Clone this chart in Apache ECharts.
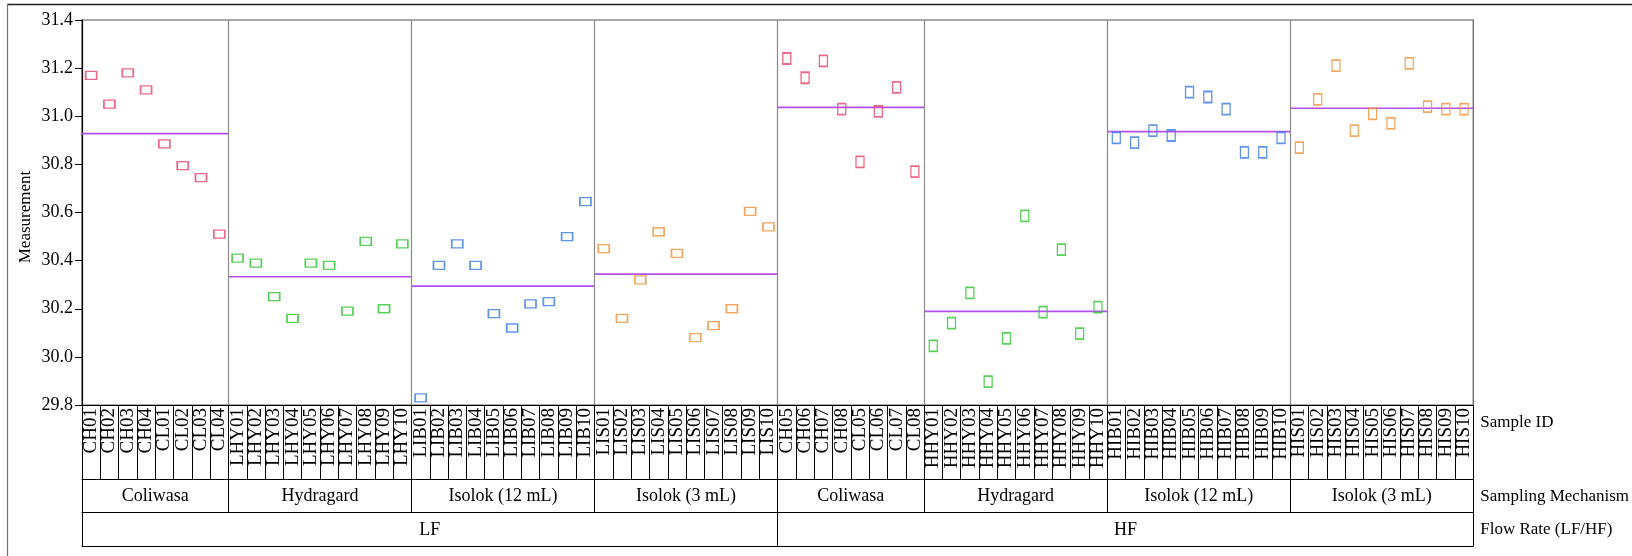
<!DOCTYPE html>
<html>
<head>
<meta charset="utf-8">
<script src="https://cdn.jsdelivr.net/npm/echarts@6/dist/echarts.min.js"></script>
<style>
html,body{margin:0;padding:0;background:#fff;}
#chart{width:1632px;height:556px;}
</style>
</head>
<body>
<div id="chart"></div>
<script>
// ---- data ----
const groupNames = ['Coliwasa','Hydragard','Isolok (12 mL)','Isolok (3 mL)','Coliwasa','Hydragard','Isolok (12 mL)','Isolok (3 mL)'];
const flowNames = ['LF','HF'];
const yTitle = 'Measurement';

const idsLFCol = ['CH01','CH02','CH03','CH04','CL01','CL02','CL03','CL04'];
const valsLFCol = [31.17,31.05,31.18,31.11,30.885,30.795,30.745,30.51];
const idsLFHyd = ['LHY01','LHY02','LHY03','LHY04','LHY05','LHY06','LHY07','LHY08','LHY09','LHY10'];
const valsLFHyd = [30.41,30.39,30.25,30.16,30.39,30.38,30.19,30.48,30.20,30.47];
const idsLFI12 = ['LIB01','LIB02','LIB03','LIB04','LIB05','LIB06','LIB07','LIB08','LIB09','LIB10'];
const valsLFI12 = [29.83,30.38,30.47,30.38,30.18,30.12,30.22,30.23,30.50,30.645];
const idsLFI3 = ['LIS01','LIS02','LIS03','LIS04','LIS05','LIS06','LIS07','LIS08','LIS09','LIS10'];
const valsLFI3 = [30.45,30.16,30.32,30.52,30.43,30.08,30.13,30.20,30.605,30.54];
const idsHFCol = ['CH05','CH06','CH07','CH08','CL05','CL06','CL07','CL08'];
const valsHFCol = [31.24,31.16,31.23,31.03,30.81,31.02,31.12,30.77];
const idsHFHyd = ['HHY01','HHY02','HHY03','HHY04','HHY05','HHY06','HHY07','HHY08','HHY09','HHY10'];
const valsHFHyd = [30.046,30.14,30.266,29.897,30.077,30.586,30.186,30.446,30.097,30.207];
const idsHFI12 = ['HIB01','HIB02','HIB03','HIB04','HIB05','HIB06','HIB07','HIB08','HIB09','HIB10'];
const valsHFI12 = [30.91,30.89,30.94,30.92,31.10,31.08,31.03,30.85,30.85,30.91];
const idsHFI3 = ['HIS01','HIS02','HIS03','HIS04','HIS05','HIS06','HIS07','HIS08','HIS09','HIS10'];
const valsHFI3 = [30.87,31.07,31.21,30.94,31.01,30.97,31.22,31.04,31.03,31.03];

const groupMeans = [30.928,30.333,30.294,30.344,31.037,30.189,30.936,31.033];

const yMin = 29.8, yMax = 31.4, yStep = 0.2;

// ---- build ----
const ids = [idsLFCol, idsLFHyd, idsLFI12, idsLFI3, idsHFCol, idsHFHyd, idsHFI12, idsHFI3];
const vals = [valsLFCol, valsLFHyd, valsLFI12, valsLFI3, valsHFCol, valsHFHyd, valsHFI12, valsHFI3];
const sampleAxis = ids.flat();
const total = sampleAxis.length;
const bounds = [0];
ids.forEach(g => bounds.push(bounds[bounds.length - 1] + g.length));
const centers = groupNames.map((_, i) => (bounds[i] + bounds[i + 1]) / 2);
const flowBounds = [0, bounds[4], bounds[8]];
const flowCenters = [(flowBounds[0] + flowBounds[1]) / 2, (flowBounds[1] + flowBounds[2]) / 2];

const mechColors = ['#e8436a', '#2fc42f', '#3a7be6', '#f0923a'];
const FONT = 'Liberation Serif';

const series = [];
ids.forEach((g, gi) => {
  series.push({
    type: 'scatter', xAxisIndex: 0, yAxisIndex: 0,
    symbol: 'rect', symbolSize: gi < 4 ? [11, 8] : [8, 11],
    itemStyle: { color: 'rgba(255,255,255,0)', borderColor: mechColors[gi % 4], borderWidth: 1.5 },
    data: g.map((id, k) => [id, vals[gi][k]]),
    z: 4
  });
  series.push({
    type: 'line', xAxisIndex: 1, yAxisIndex: 0,
    symbol: 'none',
    lineStyle: { color: '#b450f2', width: 1.6 },
    data: [[bounds[gi], groupMeans[gi]], [bounds[gi + 1], groupMeans[gi]]],
    z: 3
  });
});
series.push({
  type: 'line', xAxisIndex: 1, yAxisIndex: 0, data: [],
  markLine: {
    silent: true, symbol: ['none', 'none'], label: { show: false },
    lineStyle: { color: '#8a8a8a', type: 'solid', width: 1.2 },
    data: bounds.slice(1, -1).map(b => ({ xAxis: b }))
  }
});

const nameStyle = { fontFamily: FONT, fontSize: 17, color: '#000', verticalAlign: 'top', align: 'left', padding: [9, 0, 0, 0] };

const option = {
  animation: false,
  backgroundColor: '#fff',
  textStyle: { fontFamily: FONT, color: '#000' },
  grid: { left: 82, right: 157, top: 20, bottom: 151, show: true, borderColor: '#555', borderWidth: 1.2 },
  graphic: [
    { type: 'line', shape: { x1: 7, y1: 4.5, x2: 1632, y2: 4.5 }, style: { stroke: '#222', lineWidth: 1.6 }, silent: true },
    { type: 'line', shape: { x1: 7.5, y1: 4, x2: 7.5, y2: 556 }, style: { stroke: '#777', lineWidth: 1.2 }, silent: true },
    {
      type: 'text', x: 26, y: 217, rotation: Math.PI / 2, silent: true,
      style: { text: yTitle, font: '17px "Liberation Serif"', fill: '#000', align: 'center', verticalAlign: 'middle' }
    }
  ],
  xAxis: [
    {
      type: 'category', data: sampleAxis, position: 'bottom', boundaryGap: true,
      axisLine: { lineStyle: { color: '#000', width: 1.2 } },
      axisTick: { show: true, interval: 0, length: 74, lineStyle: { color: '#000', width: 1 } },
      axisLabel: { interval: 0, rotate: 90, fontFamily: FONT, fontSize: 19, color: '#000', margin: 3 },
      splitLine: { show: false },
      name: 'Sample ID', nameLocation: 'end', nameGap: 7, nameTextStyle: nameStyle
    },
    {
      type: 'value', min: 0, max: total, position: 'bottom', offset: 74,
      axisLine: { show: true, lineStyle: { color: '#000', width: 1.2 } },
      axisTick: { show: true, customValues: bounds, length: 33, lineStyle: { color: '#000', width: 1 } },
      axisLabel: {
        customValues: centers, fontFamily: FONT, fontSize: 18, color: '#000', margin: 8,
        formatter: v => groupNames[centers.indexOf(v)]
      },
      splitLine: { show: false },
      name: 'Sampling Mechanism', nameLocation: 'end', nameGap: 7, nameTextStyle: nameStyle
    },
    {
      type: 'value', min: 0, max: total, position: 'bottom', offset: 107,
      axisLine: { show: true, lineStyle: { color: '#000', width: 1.2 } },
      axisTick: { show: true, customValues: flowBounds, length: 34, lineStyle: { color: '#000', width: 1 } },
      axisLabel: {
        customValues: flowCenters, fontFamily: FONT, fontSize: 18, color: '#000', margin: 9,
        formatter: v => flowNames[flowCenters.indexOf(v)]
      },
      splitLine: { show: false },
      name: 'Flow Rate (LF/HF)', nameLocation: 'end', nameGap: 7, nameTextStyle: nameStyle
    },
    {
      type: 'value', min: 0, max: total, position: 'bottom', offset: 141,
      axisLine: { show: true, lineStyle: { color: '#000', width: 1.2 } },
      axisTick: { show: false }, axisLabel: { show: false }, splitLine: { show: false }
    }
  ],
  yAxis: {
    type: 'value', min: yMin, max: yMax, interval: yStep,
    axisLine: { show: true, lineStyle: { color: '#000', width: 1.2 } },
    axisTick: { show: true, length: 7, lineStyle: { color: '#000' } },
    axisLabel: { fontFamily: FONT, fontSize: 18, color: '#000', margin: 9, formatter: v => v.toFixed(1) },
    splitLine: { show: false }
  },
  series: series
};

const chart = echarts.init(document.getElementById('chart'), null, { renderer: 'canvas' });
chart.setOption(option);
</script>
</body>
</html>
